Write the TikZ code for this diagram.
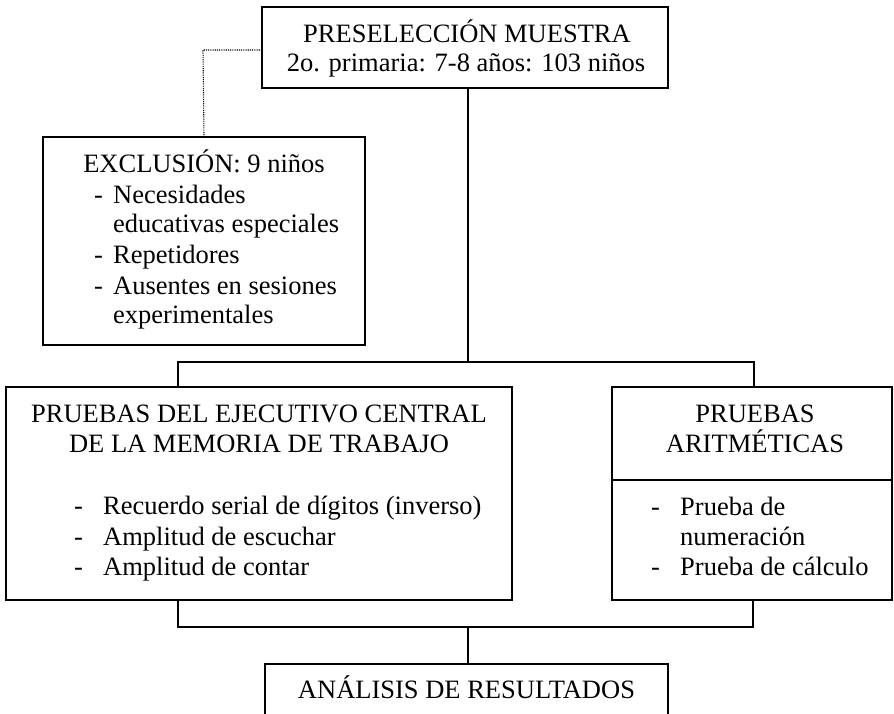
\documentclass[tikz,border=0pt]{standalone}
\usepackage{fontspec}
\setmainfont{Liberation Serif}
\begin{document}
\begin{tikzpicture}[x=1pt,y=-1pt]
\tikzset{
 boxs/.style={draw, line width=1.4pt, rectangle, inner sep=0pt, outer sep=0pt, anchor=north west},
 lbl/.style={inner sep=0pt, font=\fontsize{26.5}{30}\selectfont},
 conn/.style={line width=1.4pt},
 dotline/.style={line width=1.1pt, dash pattern=on 1.1pt off 1.1pt}
}
\useasboundingbox (0,0) rectangle (894,714);
\clip (0,0) rectangle (894,714);
% boxes
\node[boxs, minimum width=406pt, minimum height=81pt] (pre) at (262,7) {};
\node[boxs, minimum width=322pt, minimum height=208pt] (excl) at (43,137) {};
\node[boxs, minimum width=506pt, minimum height=213pt] (ejec) at (6,387) {};
\node[boxs, minimum width=280pt, minimum height=213pt] (arit) at (612,387) {};
\node[boxs, minimum width=403pt, minimum height=90pt] (res) at (265,664) {};
% texts
\node[lbl, anchor=base] (preA) at (467,43) {PRESELECCIÓN MUESTRA};
\node[lbl, anchor=base] (preB) at (466,72) {2o. primaria: 7-8 años: 103 niños};
\node[lbl, anchor=base] (exA) at (204,173) {EXCLUSIÓN: 9 niños};
\node[lbl, anchor=base west] (exD1) at (94,204) {-};
\node[lbl, anchor=base west] (exT1) at (113,204) {Necesidades};
\node[lbl, anchor=base west] (exT1b) at (113,233) {educativas especiales};
\node[lbl, anchor=base west] (exD2) at (94,263) {-};
\node[lbl, anchor=base west] (exT2) at (113,263) {Repetidores};
\node[lbl, anchor=base west] (exD3) at (94,294) {-};
\node[lbl, anchor=base west] (exT3) at (113,294) {Ausentes en sesiones};
\node[lbl, anchor=base west] (exT3b) at (113,323) {experimentales};
\node[lbl, anchor=base] (ejA) at (259,422) {PRUEBAS DEL EJECUTIVO CENTRAL};
\node[lbl, anchor=base] (ejB) at (259,452) {DE LA MEMORIA DE TRABAJO};
\node[lbl, anchor=base west] (ejD1) at (74,514) {-};
\node[lbl, anchor=base west] (ejT1) at (103,514) {Recuerdo serial de dígitos (inverso)};
\node[lbl, anchor=base west] (ejD2) at (74,545) {-};
\node[lbl, anchor=base west] (ejT2) at (103,545) {Amplitud de escuchar};
\node[lbl, anchor=base west] (ejD3) at (74,575) {-};
\node[lbl, anchor=base west] (ejT3) at (103,575) {Amplitud de contar};
\node[lbl, anchor=base] (arA) at (755,422) {PRUEBAS};
\node[lbl, anchor=base] (arB) at (755,452) {ARITMÉTICAS};
\node[lbl, anchor=base west] (arD1) at (651,515) {-};
\node[lbl, anchor=base west] (arT1) at (680,515) {Prueba de};
\node[lbl, anchor=base west] (arT1b) at (680,545) {numeración};
\node[lbl, anchor=base west] (arD2) at (651,575) {-};
\node[lbl, anchor=base west] (arT2) at (680,575) {Prueba de cálculo};
\node[lbl, anchor=base] (resA) at (466.5,698) {ANÁLISIS DE RESULTADOS};
% separator in arithmetic box
\coordinate (sep) at (612,480);
\draw[conn] (sep) -- (sep -| arit.east);
% connectors
\coordinate (splitTop) at (468,362);
\coordinate (lt) at (178,362);
\coordinate (rt) at (754,362);
\draw[conn] (pre.south -| splitTop) -- (splitTop);
\draw[conn] (lt |- ejec.north) -- (lt) -- (rt) -- (rt |- arit.north);
\coordinate (lb) at (178,627);
\coordinate (rb) at (753,627);
\coordinate (mb) at (468,627);
\draw[conn] (ejec.south -| lb) -- (lb) -- (rb) -- (arit.south -| rb);
\draw[conn] (mb) -- (mb |- res.north);
\coordinate (dotc) at (203,50);
\draw[dotline] (pre.west |- dotc) -- (dotc) -- (excl.north);
\end{tikzpicture}
\end{document}
